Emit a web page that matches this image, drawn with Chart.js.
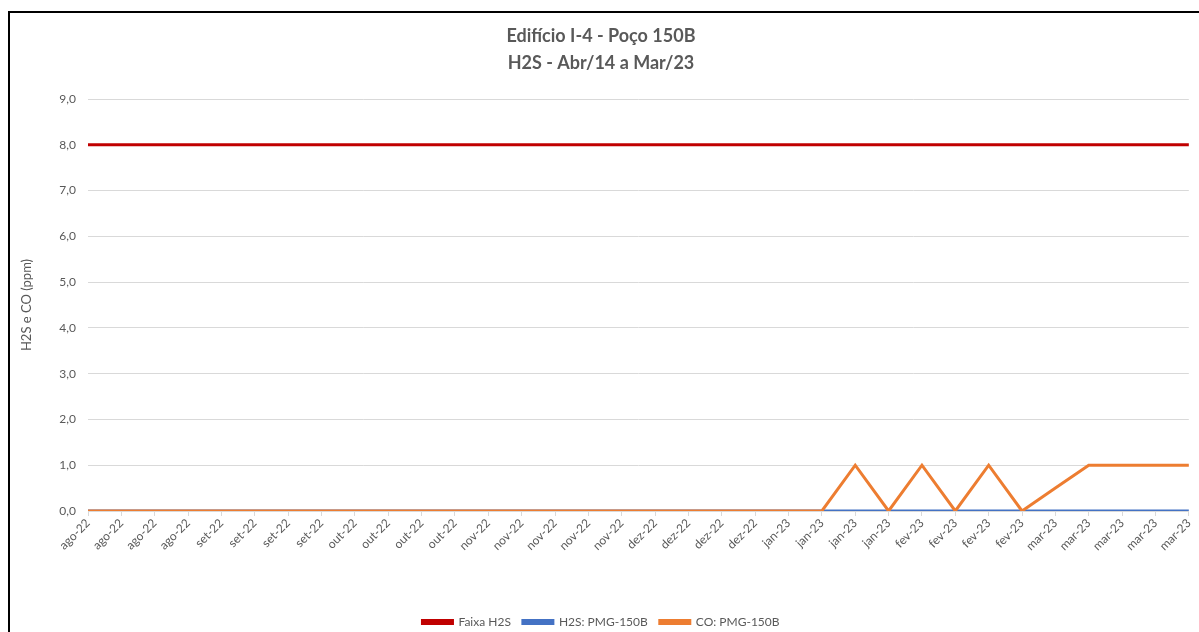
<!DOCTYPE html>
<html>
<head>
<meta charset="utf-8">
<script src="https://cdn.jsdelivr.net/npm/chart.js@4.4.1/dist/chart.umd.min.js"></script>
<style>
  html, body { margin: 0; padding: 0; background: #fff; }
  #wrap { position: relative; width: 1199px; height: 632px; }
  #frame { position: absolute; left: 8px; top: 11px; right: 0; bottom: 0; border-left: 2px solid #000; border-top: 2px solid #000; pointer-events: none; }
</style>
</head>
<body>
<div id="wrap">
  <canvas id="c"></canvas>
  <div id="frame"></div>
</div>
<script>
const categories = [
  'ago-22','ago-22','ago-22','ago-22',
  'set-22','set-22','set-22','set-22',
  'out-22','out-22','out-22','out-22',
  'nov-22','nov-22','nov-22','nov-22','nov-22',
  'dez-22','dez-22','dez-22','dez-22',
  'jan-23','jan-23','jan-23','jan-23',
  'fev-23','fev-23','fev-23','fev-23',
  'mar-23','mar-23','mar-23','mar-23','mar-23'
];
const faixaH2S = [8,8,8,8, 8,8,8,8, 8,8,8,8, 8,8,8,8,8, 8,8,8,8, 8,8,8,8, 8,8,8,8, 8,8,8,8,8];
const h2sPMG150B = [0,0,0,0, 0,0,0,0, 0,0,0,0, 0,0,0,0,0, 0,0,0,0, 0,0,0,0, 0,0,0,0, 0,0,0,0,0];
const coPMG150B = [0,0,0,0, 0,0,0,0, 0,0,0,0, 0,0,0,0,0, 0,0,0,0, 0,0,1,0, 1,0,1,0, 0.5,1,1,1,1];
const seriesNames = ['Faixa H2S', 'H2S: PMG-150B', 'CO: PMG-150B'];
const titleLines = ['Edifício I-4 - Poço 150B', 'H2S - Abr/14 a Mar/23'];
const yAxisTitle = 'H2S e CO (ppm)';
const yMin = 0, yMax = 9, yStep = 1;

const FONT = 'Lato, "Open Sans", sans-serif';
const GRAY = '#595959';

new Chart(document.getElementById('c'), {
  type: 'line',
  data: {
    labels: categories,
    datasets: [
      { label: seriesNames[0], data: faixaH2S, borderColor: '#C00000', backgroundColor: '#C00000', borderWidth: 3, pointRadius: 0, tension: 0, order: 3 },
      { label: seriesNames[1], data: h2sPMG150B, borderColor: '#4472C4', backgroundColor: '#4472C4', borderWidth: 3, pointRadius: 0, tension: 0, order: 2 },
      { label: seriesNames[2], data: coPMG150B, borderColor: '#ED7D31', backgroundColor: '#ED7D31', borderWidth: 3, pointRadius: 0, tension: 0, order: 1 }
    ]
  },
  options: {
    responsive: true,
    maintainAspectRatio: false,
    animation: false,
    layout: { padding: { left: 10, right: 7, top: 0, bottom: -6 } },
    plugins: {
      title: {
        display: true,
        text: titleLines,
        color: GRAY,
        font: { family: FONT, size: 18, weight: 'bold', lineHeight: 1.5 },
        padding: { top: 23, bottom: 22 }
      },
      legend: {
        display: true,
        position: 'bottom',
        labels: {
          color: GRAY,
          font: { family: FONT, size: 12 },
          boxWidth: 30,
          boxHeight: 3,
          padding: 12,
          sort: (a, b) => a.datasetIndex - b.datasetIndex
        }
      },
      tooltip: { enabled: false }
    },
    scales: {
      x: {
        offset: false,
        grid: { display: true, drawOnChartArea: false, drawTicks: true, tickLength: 5, color: '#D9D9D9' },
        border: { display: true, color: '#D9D9D9' },
        ticks: { color: GRAY, font: { family: FONT, size: 12 }, minRotation: 45, maxRotation: 45, autoSkip: false, padding: 0 },
        afterFit: (s) => { s.height = 93; }
      },
      y: {
        min: yMin, max: yMax,
        grid: { color: '#D9D9D9', drawTicks: false },
        border: { display: false },
        ticks: {
          stepSize: yStep, color: GRAY, font: { family: FONT, size: 12 }, padding: 12,
          callback: (v) => Number(v).toFixed(1).replace('.', ',')
        },
        title: { display: true, text: yAxisTitle, color: GRAY, font: { family: FONT, size: 13 }, padding: { top: 9, bottom: 0 } },
        afterFit: (s) => { s.width = 78; }
      }
    }
  }
});
</script>
</body>
</html>
